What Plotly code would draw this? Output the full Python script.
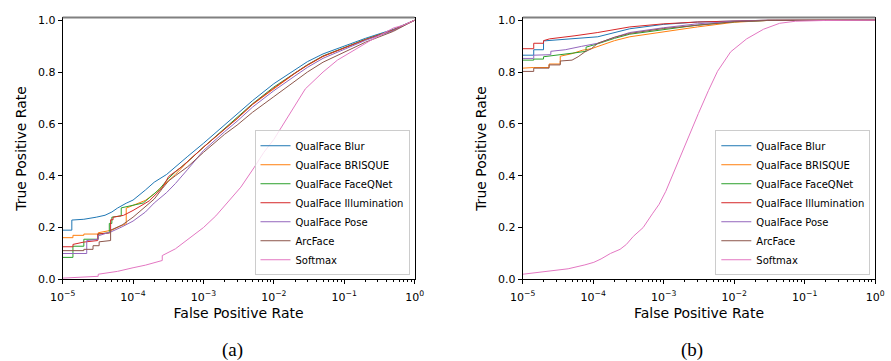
import plotly.graph_objects as go

# ---------------- data: panel (a) ----------------
names = ["QualFace Blur", "QualFace BRISQUE", "QualFace FaceQNet",
         "QualFace Illumination", "QualFace Pose", "ArcFace", "Softmax"]
colors = ["#1f77b4", "#ff7f0e", "#2ca02c", "#d62728", "#9467bd", "#8c564b", "#e377c2"]

tail_x = [2e-3, 3e-3, 5e-3, 1e-2, 2e-2, 3e-2, 5e-2, 1e-1, 2e-1, 5e-1, 1.0]

blur_a_x = [1e-5, 1.35e-5, 1.35e-5, 2e-5, 3e-5, 4e-5, 5e-5, 6e-5, 8e-5, 1e-4, 1.5e-4, 2e-4,
            3e-4, 4e-4, 6e-4, 1e-3] + tail_x
blur_a_y = [0.19, 0.19, 0.229, 0.232, 0.24, 0.2475, 0.26, 0.275, 0.294, 0.306, 0.345, 0.375,
            0.405, 0.435, 0.475, 0.525, 0.595, 0.635, 0.69, 0.755, 0.81, 0.84, 0.87, 0.90,
            0.93, 0.965, 1.0]

brisque_a_x = [1e-5, 1.4e-5, 1.4e-5, 2e-5, 2e-5, 3.2e-5, 3.2e-5, 5e-5, 6.5e-5, 8e-5, 8e-5,
               1e-4, 1.5e-4, 2e-4, 3e-4, 4e-4, 6e-4, 1e-3] + tail_x
brisque_a_y = [0.161, 0.161, 0.17, 0.17, 0.175, 0.175, 0.18, 0.19, 0.205, 0.215, 0.275,
               0.285, 0.305, 0.33, 0.375, 0.405, 0.455, 0.51, 0.58, 0.62, 0.675, 0.735,
               0.795, 0.826, 0.86, 0.893, 0.925, 0.962, 1.0]

faceqnet_a_x = [1e-5, 1.4e-5, 1.4e-5, 2e-5, 2e-5, 3.2e-5, 3.2e-5, 4.6e-5, 4.6e-5, 5e-5, 5e-5,
                6.8e-5, 6.8e-5, 1e-4, 1.4e-4, 2.35e-4, 3.2e-4, 4e-4, 6e-4, 1e-3] + tail_x
faceqnet_a_y = [0.085, 0.085, 0.128, 0.128, 0.155, 0.155, 0.175, 0.18, 0.216, 0.216, 0.24,
                0.245, 0.276, 0.285, 0.295, 0.347, 0.39, 0.415, 0.455, 0.51, 0.582, 0.622,
                0.678, 0.742, 0.798, 0.828, 0.862, 0.894, 0.926, 0.962, 1.0]

illum_a_x = [1e-5, 1.4e-5, 1.4e-5, 2e-5, 3.15e-5, 3.15e-5, 4.8e-5, 4.8e-5, 5.2e-5, 5.2e-5,
             7.3e-5, 1e-4, 1.7e-4, 2.6e-4, 3.2e-4, 4.9e-4, 1e-3] + tail_x
illum_a_y = [0.126, 0.126, 0.135, 0.144, 0.15, 0.175, 0.18, 0.23, 0.23, 0.24,
             0.247, 0.266, 0.303, 0.353, 0.397, 0.434, 0.51, 0.58, 0.62, 0.676, 0.738,
             0.796, 0.827, 0.861, 0.893, 0.925, 0.962, 1.0]

pose_a_x = [1e-5, 2.2e-5, 2.2e-5, 3.2e-5, 3.2e-5, 5e-5, 7e-5, 1e-4, 1.5e-4, 2e-4, 3e-4,
            4e-4, 6e-4, 1e-3] + tail_x
pose_a_y = [0.10, 0.10, 0.15, 0.155, 0.168, 0.185, 0.203, 0.225, 0.26, 0.295, 0.335,
            0.37, 0.425, 0.497, 0.57, 0.61, 0.665, 0.728, 0.785, 0.818, 0.853, 0.888,
            0.922, 0.96, 1.0]

arcface_a_x = [1e-5, 2e-5, 2e-5, 2.7e-5, 2.7e-5, 3.3e-5, 3.3e-5, 4.8e-5, 4.8e-5, 7e-5, 1e-4,
               1.5e-4, 2e-4, 2.6e-4, 3.2e-4, 4e-4, 6e-4, 1e-3] + tail_x
arcface_a_y = [0.111, 0.111, 0.116, 0.116, 0.13, 0.13, 0.145, 0.15, 0.19, 0.21, 0.24,
               0.28, 0.31, 0.35, 0.38, 0.40, 0.435, 0.49, 0.56, 0.595, 0.645, 0.705,
               0.765, 0.80, 0.838, 0.875, 0.915, 0.957, 1.0]

softmax_a_x = [1e-5, 2e-5, 3.2e-5, 3.2e-5, 6e-5, 1e-4, 1.5e-4, 2.6e-4, 2.6e-4, 4e-4, 6e-4,
               1e-3, 1.5e-3, 2.2e-3, 3.4e-3, 5.2e-3, 7.2e-3, 1e-2, 1.7e-2, 2.8e-2, 5e-2,
               8e-2, 2.3e-1, 5e-1, 6.8e-1, 1.0]
softmax_a_y = [0.005, 0.01, 0.012, 0.02, 0.031, 0.045, 0.055, 0.073, 0.092, 0.118, 0.155,
               0.20, 0.245, 0.295, 0.356, 0.43, 0.49, 0.54, 0.64, 0.735, 0.80, 0.846,
               0.92, 0.97, 0.98, 1.0]

# ---------------- data: panel (b) ----------------
blur_b_x = [1e-5, 1.43e-5, 1.43e-5, 1.97e-5, 1.97e-5, 3e-5, 1.16e-4, 3.3e-4, 1e-3, 3e-3,
            1e-2, 3e-2, 1.0]
blur_b_y = [0.865, 0.865, 0.886, 0.886, 0.92, 0.924, 0.936, 0.967, 0.984, 0.993, 0.998,
            1.0, 1.0]

brisque_b_x = [1e-5, 1.43e-5, 2.36e-5, 2.36e-5, 3.4e-5, 3.4e-5, 5e-5, 7e-5, 9.4e-5, 1.16e-4,
               2e-4, 3.3e-4, 1e-3, 3e-3, 1e-2, 3e-2, 1.0]
brisque_b_y = [0.815, 0.8175, 0.8175, 0.831, 0.831, 0.861, 0.871, 0.884, 0.89, 0.899,
               0.921, 0.936, 0.956, 0.974, 0.992, 0.999, 1.0]

faceqnet_b_x = [1e-5, 1.43e-5, 1.43e-5, 1.97e-5, 1.97e-5, 3.25e-5, 5.5e-5, 7.9e-5, 7.9e-5,
                1.16e-4, 2e-4, 3.3e-4, 1e-3, 3e-3, 1e-2, 3e-2, 1.0]
faceqnet_b_y = [0.846, 0.846, 0.85, 0.85, 0.859, 0.865, 0.874, 0.88, 0.896, 0.909, 0.93,
                0.946, 0.965, 0.981, 0.994, 0.999, 1.0]

illum_b_x = [1e-5, 1.43e-5, 1.43e-5, 1.97e-5, 1.97e-5, 2.4e-5, 5.5e-5, 1.16e-4, 3.3e-4,
             1e-3, 3e-3, 1e-2, 3e-2, 1.0]
illum_b_y = [0.89, 0.89, 0.911, 0.911, 0.921, 0.928, 0.94, 0.9525, 0.974, 0.986, 0.993,
             0.998, 1.0, 1.0]

pose_b_x = [1e-5, 1.43e-5, 1.43e-5, 2.5e-5, 2.5e-5, 4e-5, 6.8e-5, 1.16e-4, 2e-4, 3.3e-4,
            1e-3, 3e-3, 1e-2, 3e-2, 1.0]
pose_b_y = [0.8525, 0.8525, 0.865, 0.867, 0.88, 0.886, 0.899, 0.911, 0.934, 0.9525,
            0.971, 0.986, 0.996, 0.999, 1.0]

arcface_b_x = [1e-5, 1.43e-5, 1.43e-5, 2.36e-5, 2.36e-5, 3.4e-5, 3.4e-5, 5e-5, 6.1e-5,
               7.6e-5, 9.4e-5, 1.16e-4, 2e-4, 3.3e-4, 1e-3, 3e-3, 1e-2, 3e-2, 1.0]
arcface_b_y = [0.8025, 0.8025, 0.815, 0.815, 0.8275, 0.8275, 0.8425, 0.846, 0.859,
               0.8775, 0.89, 0.911, 0.934, 0.949, 0.968, 0.981, 0.994, 0.999, 1.0]

softmax_b_x = [1e-5, 1.5e-5, 2.6e-5, 4.4e-5, 7.6e-5, 1.02e-4, 1.29e-4, 1.75e-4, 2.4e-4,
               2.95e-4, 3.7e-4, 5.1e-4, 6.9e-4, 8.6e-4, 1.07e-3, 1.32e-3, 1.82e-3, 2.5e-3,
               3.1e-3, 4.3e-3, 5.8e-3, 8.9e-3, 1.5e-2, 2.6e-2, 4.4e-2, 7.4e-2, 2e-1, 1.0]
softmax_b_y = [0.02, 0.025, 0.032, 0.041, 0.056, 0.066, 0.079, 0.10, 0.116, 0.135, 0.166,
               0.20, 0.253, 0.29, 0.34, 0.40, 0.49, 0.578, 0.64, 0.728, 0.803, 0.878, 0.928,
               0.965, 0.988, 0.996, 0.999, 1.0]

panel_a = [(blur_a_x, blur_a_y), (brisque_a_x, brisque_a_y), (faceqnet_a_x, faceqnet_a_y),
           (illum_a_x, illum_a_y), (pose_a_x, pose_a_y), (arcface_a_x, arcface_a_y),
           (softmax_a_x, softmax_a_y)]
panel_b = [(blur_b_x, blur_b_y), (brisque_b_x, brisque_b_y), (faceqnet_b_x, faceqnet_b_y),
           (illum_b_x, illum_b_y), (pose_b_x, pose_b_y), (arcface_b_x, arcface_b_y),
           (softmax_b_x, softmax_b_y)]

tick_vals = [1e-5, 1e-4, 1e-3, 1e-2, 1e-1, 1e0]
tick_text = ["10<sup>−5</sup>", "10<sup>−4</sup>", "10<sup>−3</sup>", "10<sup>−2</sup>",
             "10<sup>−1</sup>", "10<sup>0</sup>"]
minor_vals = [m * 10 ** e for e in range(-5, 0) for m in range(2, 10)]
y_ticks = [0.0, 0.2, 0.4, 0.6, 0.8, 1.0]

FONT = "DejaVu Sans, sans-serif"

fig = go.Figure()
for i, ((xa, ya), (xb, yb)) in enumerate(zip(panel_a, panel_b)):
    fig.add_trace(go.Scatter(x=xa, y=ya, mode="lines", name=names[i],
                             line=dict(color=colors[i], width=1),
                             xaxis="x", yaxis="y", legend="legend"))
    fig.add_trace(go.Scatter(x=xb, y=yb, mode="lines", name=names[i],
                             line=dict(color=colors[i], width=1),
                             xaxis="x2", yaxis="y2", legend="legend2"))

xcommon = dict(type="log", range=[-5, 0], tickmode="array", tickvals=tick_vals,
               ticktext=tick_text, ticks="outside", ticklen=4, tickcolor="black",
               ticklabelstandoff=3,
               showline=True, linecolor="black", linewidth=1, mirror=True,
               showgrid=False, zeroline=False,
               tickfont=dict(family=FONT, size=11, color="black"),
               minor=dict(tickmode="array", tickvals=minor_vals, ticks="outside",
                          ticklen=2, tickcolor="black", showgrid=False),
               title=dict(text="False Positive Rate", standoff=5,
                          font=dict(family=FONT, size=14, color="black")))
ycommon = dict(range=[0, 1.01], tickmode="array", tickvals=y_ticks,
               ticktext=[f"{v:.1f}" for v in y_ticks],
               ticks="outside", ticklen=4, tickcolor="black",
               showline=True, linecolor="black", linewidth=1, mirror=True,
               showgrid=False, zeroline=False,
               tickfont=dict(family=FONT, size=11, color="black"),
               title=dict(text="True Positive Rate", standoff=8,
                          font=dict(family=FONT, size=14, color="black")))

legcommon = dict(font=dict(family=FONT, size=10, color="black"),
                 bgcolor="rgba(255,255,255,0.8)", bordercolor="#cccccc", borderwidth=1,
                 xanchor="right", yanchor="bottom", tracegroupgap=0, itemwidth=30)

top_edge = [dict(type="line", xref=f"{xa} domain", yref=f"{ya} domain",
                 x0=0, x1=1, y0=1, y1=1, line=dict(color="#808080", width=2))
            for xa, ya in (("x", "y"), ("x2", "y2"))]

fig.update_layout(
    width=891, height=361, margin=dict(l=0, r=0, t=0, b=0),
    paper_bgcolor="white", plot_bgcolor="white",
    xaxis=dict(domain=[0.0572, 0.4627], anchor="y", **xcommon),
    yaxis=dict(domain=[0.2125, 0.9584], anchor="x", **ycommon),
    xaxis2=dict(domain=[0.5873, 0.9933], anchor="y2", **xcommon),
    yaxis2=dict(domain=[0.2125, 0.9584], anchor="x2", **ycommon),
    legend=dict(x=0.4568, y=0.2244, **legcommon),
    legend2=dict(x=0.9877, y=0.2244, **legcommon),
    shapes=top_edge,
    annotations=[
        dict(text="(a)", x=0.2525, y=0.012, xref="paper", yref="paper",
             showarrow=False, xanchor="center", yanchor="middle",
             font=dict(family="Liberation Serif, serif", size=19, color="black")),
        dict(text="(b)", x=0.7823, y=0.012, xref="paper", yref="paper",
             showarrow=False, xanchor="center", yanchor="middle",
             font=dict(family="Liberation Serif, serif", size=19, color="black")),
    ],
)

fig.write_html("out.html")
